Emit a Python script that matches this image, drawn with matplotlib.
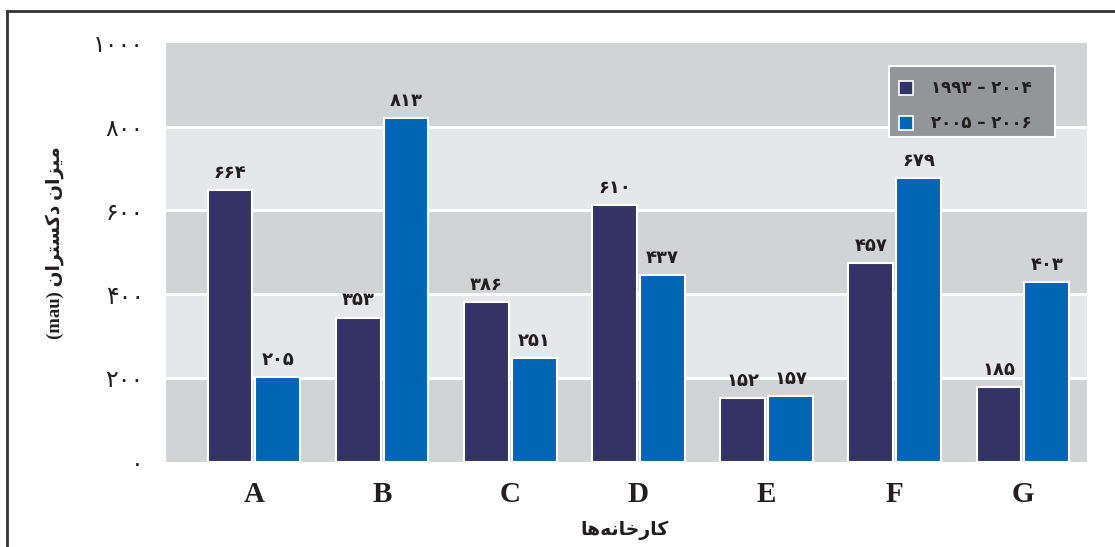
import numpy as np
import matplotlib.pyplot as plt
from matplotlib.patches import Rectangle

# data
factories = ['A', 'B', 'C', 'D', 'E', 'F', 'G']
dex_1993_2004 = [649, 344, 380, 613, 151, 474, 178]
dex_2005_2006 = [201, 820, 247, 446, 156, 677, 428]
# printed value labels (persian digits, as in the original)
lab_1993_2004 = ['۶۶۴', '۳۵۳', '۳۸۶', '۶۱۰', '۱۵۲', '۴۵۷', '۱۸۵']
lab_2005_2006 = ['۲۰۵', '۸۱۳', '۲۵۱', '۴۳۷', '۱۵۷', '۶۷۹', '۴۰۳']
yticks = [0, 200, 400, 600, 800, 1000]
ytick_labels = ['۰', '۲۰۰', '۴۰۰', '۶۰۰', '۸۰۰', '۱۰۰۰']
series_names = ['۱۹۹۳ – ۲۰۰۴', '۲۰۰۵ – ۲۰۰۶']

# matplotlib has no arabic shaping -> presentation forms, visual order
# "کارخانه‌ها"
xlabel = '\ufe8e\ufeeb\ufeea\ufee7\ufe8e\ufea7\ufead\ufe8e\ufb90'
# "میزان دکستران (mau)"
ylabel = '(mau) ' + '\ufee5\ufe8d\ufeae\ufe98\ufeb4\ufb90\ufea9' + ' ' + '\ufee5\ufe8d\ufeb0\ufbff\ufee3'

dark = '#343464'
blue = '#0066b3'
band_dark = '#d1d3d4'
band_light = '#e6e7e8'
txt = '#231f20'

fig = plt.figure(figsize=(11.15, 5.47), dpi=100)
ax = fig.add_axes([166/1115, 1 - 461.5/547, (1087-166)/1115, (461.5-43)/547])

# frame around the figure (only left and top visible)
fig.add_artist(plt.Line2D([7/1115, 7/1115], [0, 1 - 11/547], color='#333333', lw=2))
fig.add_artist(plt.Line2D([7/1115, 1], [1 - 11/547, 1 - 11/547], color='#333333', lw=2))

# striped background
for k in range(5):
    ax.axhspan(k*200, (k+1)*200, color=band_dark if k % 2 == 0 else band_light, lw=0, zorder=0)
for y in yticks[1:-1]:
    ax.axhline(y, color='white', lw=2, zorder=1)

x = np.arange(len(factories))
w = 0.35
off = 0.187
ax.bar(x - off, dex_1993_2004, w, color=dark, edgecolor='white', lw=1.5, zorder=2)
ax.bar(x + off, dex_2005_2006, w, color=blue, edgecolor='white', lw=1.5, zorder=2)

for xi, v, s in zip(x - off, dex_1993_2004, lab_1993_2004):
    ax.annotate(s, (xi, v), xytext=(0, 6), textcoords='offset points', ha='center', va='bottom',
                fontsize=13, fontweight='bold', color=txt)
for xi, v, s in zip(x + off, dex_2005_2006, lab_2005_2006):
    ax.annotate(s, (xi, v), xytext=(0, 6), textcoords='offset points', ha='center', va='bottom',
                fontsize=13, fontweight='bold', color=txt)

ax.set_xlim(-0.686, 6.5)
ax.set_ylim(0, 1000)
ax.set_yticks(yticks)
ax.set_yticklabels(ytick_labels, fontsize=17, color=txt)
ax.set_xticks(x)
ax.set_xticklabels(factories, fontsize=21, fontweight='bold', family='Liberation Serif', color=txt)
ax.tick_params(axis='both', length=0)
ax.tick_params(axis='y', pad=16)
ax.tick_params(axis='x', pad=14)
for sp in ax.spines.values():
    sp.set_visible(False)

fig.text(625/1115, 1 - 530/547, xlabel, ha='center', va='center', fontsize=13.5, fontweight='bold', color=txt)
fig.text(55/1115, 1 - 243/547, ylabel, ha='center', va='center', rotation=90, fontsize=13.5,
         fontweight='bold', color=txt, family=['Liberation Serif', 'DejaVu Sans'])

# legend box drawn by hand to match the grey panel
lx0, lx1, ly0, ly1 = 889, 1055, 66, 137
fig.add_artist(Rectangle((lx0/1115, 1 - ly1/547), (lx1-lx0)/1115, (ly1-ly0)/547,
                         facecolor='#939598', edgecolor='white', lw=1.5, zorder=5))
for (yc, col, name) in zip([88, 123], [dark, blue], series_names):
    fig.add_artist(Rectangle((899/1115, 1 - (yc+7)/547), 14/1115, 14/547,
                             facecolor=col, edgecolor='white', lw=1.2, zorder=6))
    fig.text(931/1115, 1 - yc/547, name, ha='left', va='center', fontsize=12, fontweight='bold',
             color=txt, zorder=7)

fig.savefig('out.png', dpi=100)
